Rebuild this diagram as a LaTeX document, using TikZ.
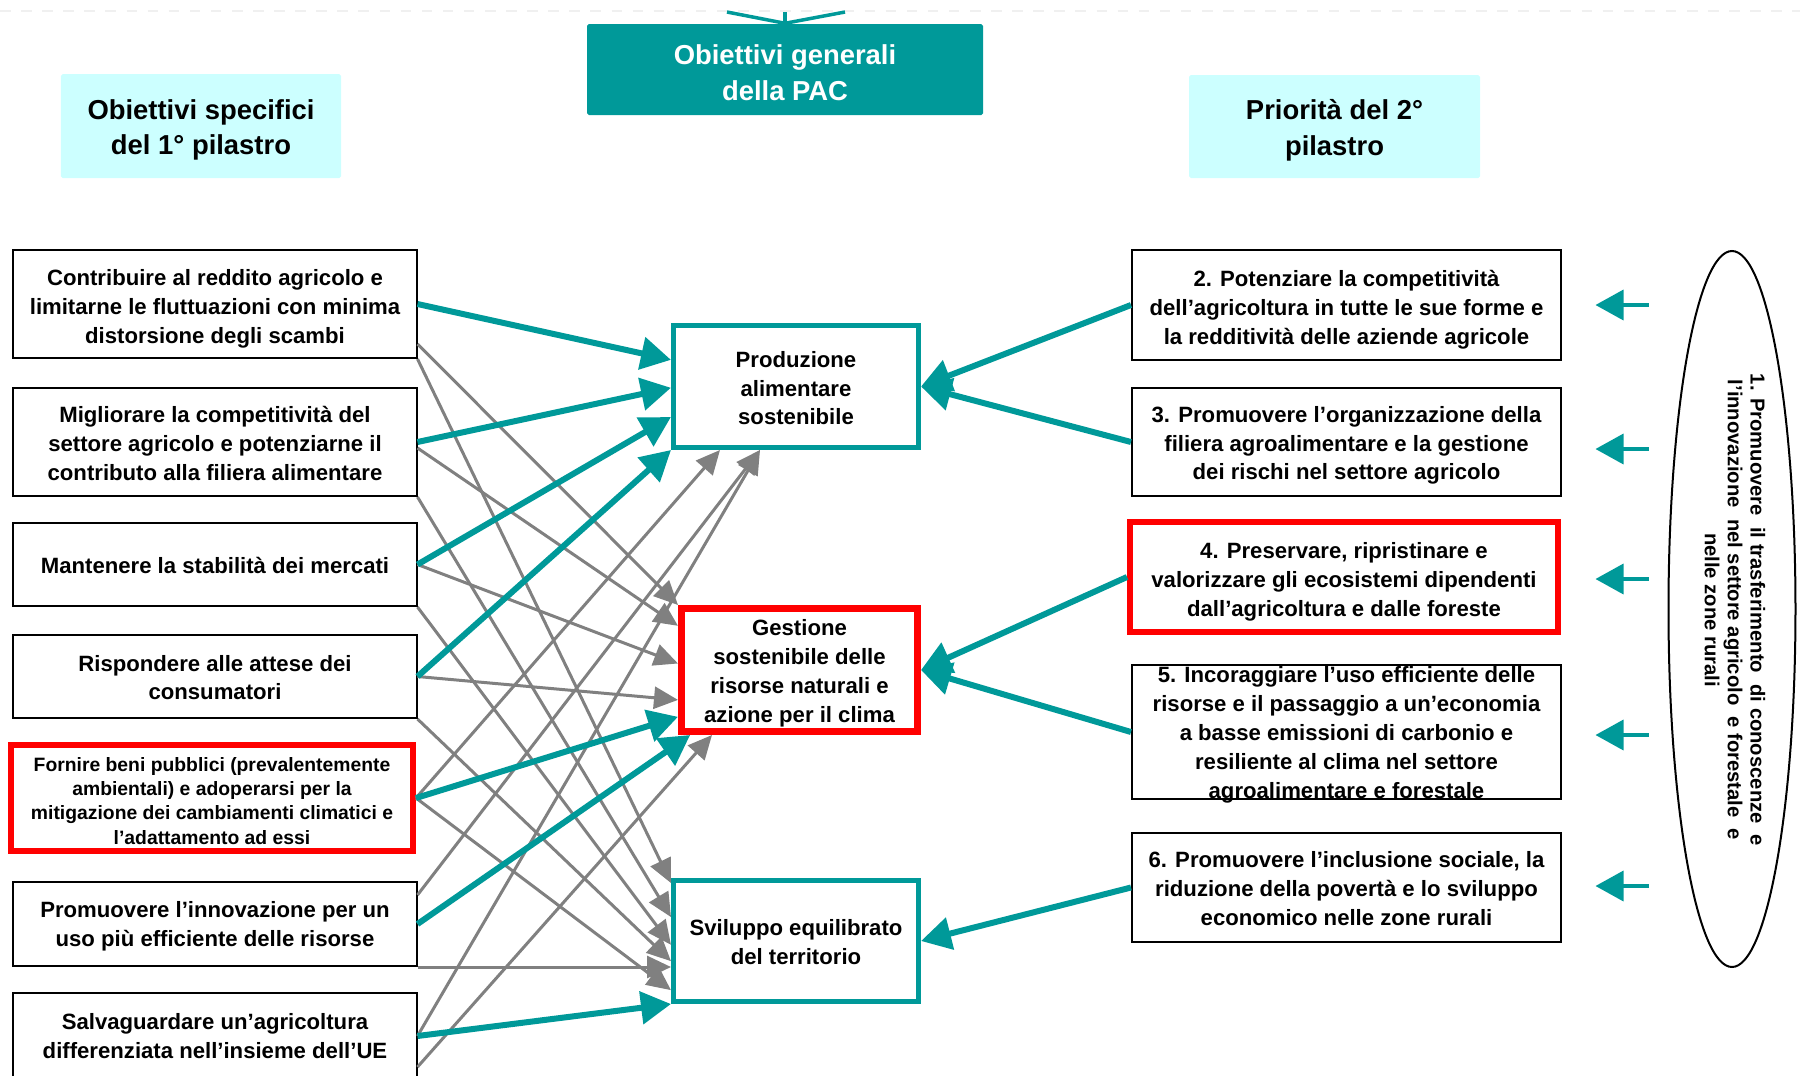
\documentclass[tikz,border=0pt]{standalone}
\usepackage{fontspec}
\setmainfont{Liberation Sans}
\usetikzlibrary{arrows.meta,calc,shapes.geometric}
\definecolor{pacteal}{RGB}{0,153,153}
\definecolor{paccyan}{RGB}{204,255,255}
\definecolor{pacgrey}{RGB}{128,128,128}
\newcommand{\txtdrop}[1]{\rule{0pt}{#1}}

\begin{document}
\begin{tikzpicture}[
	txt/.style={font=\bfseries\fontsize{6.3}{8.2}\selectfont, align=center, inner sep=0pt},
	box/.style={txt, draw=black, line width=0.02cm, minimum width=4.03cm},
	redbox/.style={txt, draw=red, line width=0.06cm},
	goalbox/.style={txt, draw=pacteal, line width=0.05cm, minimum width=2.45cm},
	hdr/.style={font=\bfseries\fontsize{7.8}{10.2}\selectfont, align=center, fill=paccyan, rounded corners=0.5pt},
	tealarr/.style={draw=pacteal, line width=0.06cm, -{Triangle[length=0.3cm,width=0.32cm]}},
	greyarr/.style={draw=pacgrey, line width=0.03cm, -{Triangle[length=0.24cm,width=0.22cm]}},
	smallarr/.style={draw=pacteal, line width=0.035cm, -{Triangle[length=0.28cm,width=0.3cm]}}
	]
	\useasboundingbox (0,0) rectangle (18,-10.76);
	
	\draw[gray!12, dashed] (0,-0.11) -- (18,-0.11);
	
	% headers
	\node[hdr, fill=pacteal, text=white, minimum width=3.96cm, minimum height=0.91cm] (gen) at (7.85,-0.695) {\txtdrop{7.6pt}Obiettivi generali\\della PAC};
	\node[hdr, minimum width=2.80cm, minimum height=1.04cm] (spec) at (2.01,-1.26) {\txtdrop{7.9pt}Obiettivi specifici\\del 1° pilastro};
	\node[hdr, minimum width=2.91cm, minimum height=1.03cm] (prio) at (13.345,-1.265) {\txtdrop{8.1pt}Priorità del 2°\\pilastro};
	
	\coordinate (t1) at (7.27,-0.12);
	\coordinate (t2) at (7.85,-0.12);
	\coordinate (t3) at (8.45,-0.12);
	\foreach \t in {t1,t2,t3}
		\draw[pacteal, line width=0.035cm] (\t) -- (gen.north);
	
	% left column
	\node[box, minimum height=1.08cm] (L1) at (2.15,-3.04) {\txtdrop{7.45pt}Contribuire al reddito agricolo e\\limitarne le fluttuazioni con minima\\distorsione degli scambi};
	\node[box, minimum height=1.08cm] (L2) at (2.15,-4.42) {\txtdrop{5.4pt}Migliorare la competitività del\\settore agricolo e potenziarne il\\contributo alla filiera alimentare};
	\node[box, minimum height=0.83cm] (L3) at (2.15,-5.645) {\txtdrop{5.4pt}Mantenere la stabilità dei mercati};
	\node[box, minimum height=0.83cm] (L4) at (2.15,-6.765) {\txtdrop{5.2pt}Rispondere alle attese dei\\consumatori};
	\node[redbox, minimum width=4.02cm, minimum height=1.06cm, font=\bfseries\fontsize{5.5}{6.9}\selectfont] (L5) at (2.12,-7.98) {\txtdrop{5.6pt}Fornire beni pubblici (prevalentemente\\ambientali) e adoperarsi per la\\mitigazione dei cambiamenti climatici e\\l’adattamento ad essi};
	\node[box, minimum height=0.84cm] (L6) at (2.15,-9.24) {\txtdrop{5.8pt}Promuovere l’innovazione per un\\uso più efficiente delle risorse};
	\node[box, minimum height=0.86cm] (L7) at (2.15,-10.36) {Salvaguardare un’agricoltura\\differenziata nell’insieme dell’UE};
	
	% general objectives
	\node[goalbox, minimum height=1.22cm] (M1) at (7.96,-3.865) {\txtdrop{5.5pt}Produzione\\alimentare\\sostenibile};
	\node[redbox, line width=0.07cm, minimum width=2.36cm, minimum height=1.23cm] (M2) at (7.995,-6.70) {\txtdrop{6.5pt}Gestione\\sostenibile delle\\risorse naturali e\\azione per il clima};
	\node[goalbox, minimum height=1.21cm] (M3) at (7.96,-9.41) {\txtdrop{5.2pt}Sviluppo equilibrato\\del territorio};
	
	% right column
	\node[box, minimum width=4.29cm, minimum height=1.10cm] (R2) at (13.465,-3.05) {\txtdrop{7.3pt}2. Potenziare la competitività\\dell’agricoltura in tutte le sue forme e\\la redditività delle aziende agricole};
	\node[box, minimum width=4.29cm, minimum height=1.08cm] (R3) at (13.465,-4.42) {\txtdrop{6.5pt}3. Promuovere l’organizzazione della\\filiera agroalimentare e la gestione\\dei rischi nel settore agricolo};
	\node[redbox, minimum width=4.28cm, minimum height=1.10cm] (R4) at (13.44,-5.77) {\txtdrop{7.45pt}4. Preservare, ripristinare e\\valorizzare gli ecosistemi dipendenti\\dall’agricoltura e dalle foreste};
	\node[box, minimum width=4.29cm, minimum height=1.34cm] (R5) at (13.465,-7.32) {};
	\node[txt] (R5txt) at (R5) {\txtdrop{6.1pt}5. Incoraggiare l’uso efficiente delle\\risorse e il passaggio a un’economia\\a basse emissioni di carbonio e\\resiliente al clima nel settore\\agroalimentare e forestale};
	\node[box, minimum width=4.29cm, minimum height=1.09cm] (R6) at (13.465,-8.875) {\txtdrop{5.2pt}6. Promuovere l’inclusione sociale, la\\riduzione della povertà e lo sviluppo\\economico nelle zone rurali};
	
	% priority 1
	\node[draw, ellipse, line width=0.02cm, minimum width=1.27cm, minimum height=7.16cm, inner sep=0pt] (ell) at (17.32,-6.09) {};
	\node[rotate=-90, font=\bfseries\fontsize{5.75}{6.5}\selectfont, align=center, inner sep=0pt] (elltxt) at (17.35,-6.10) {1. Promuovere \ il trasferimento \ di conoscenze \ e\\l’innovazione \ nel settore agricolo \ e forestale \ e\\nelle zone rurali};
	
	\foreach \r/\dy in {R2/0, R3/-0.07, R4/-0.02, R5/-0.03, R6/0.015}
		\draw[smallarr] ($(ell.west |- \r.east)+(-0.19,\dy)$) -- ++(-0.53,0);
	
	% end points
	\coordinate (l1a) at ($(L1.south east)+(0,0.15)$);
	\coordinate (l2a) at ($(L2.east)+(0,-0.06)$);
	\coordinate (l6a) at ($(L6.north east)+(0,-0.14)$);
	\coordinate (l7a) at ($(L7.east)+(0,-0.31)$);
	
	\coordinate (m1w1) at ($(M1.north west)!0.29!(M1.south west)$);
	\coordinate (m1w2) at ($(M1.north west)!0.51!(M1.south west)$);
	\coordinate (m1w3) at ($(M1.north west)!0.74!(M1.south west)$);
	\coordinate (m1s1) at ($(M1.south west)!0.196!(M1.south east)$);
	\coordinate (m1s2) at ($(M1.south west)!0.356!(M1.south east)$);
	
	\coordinate (m2w1) at ($(M2.north west)!0.16!(M2.south west)$);
	\coordinate (m2w2) at ($(M2.north west)!0.45!(M2.south west)$);
	\coordinate (m2w3) at ($(M2.north west)!0.73!(M2.south west)$);
	\coordinate (m2w4) at ($(M2.north west)!0.86!(M2.south west)$);
	\coordinate (m2s0) at ($(M2.south west)!0.05!(M2.south east)$);
	\coordinate (m2s1) at ($(M2.south west)!0.14!(M2.south east)$);
	
	\coordinate (m3w1) at ($(M3.north west)!0.04!(M3.south west)$);
	\coordinate (m3w2) at ($(M3.north west)!0.31!(M3.south west)$);
	\coordinate (m3w3) at ($(M3.north west)!0.53!(M3.south west)$);
	\coordinate (m3w4) at ($(M3.north west)!0.66!(M3.south west)$);
	\coordinate (m3w5) at ($(M3.north west)!0.89!(M3.south west)$);
	
	% grey links
	\foreach \s/\t in {l1a/M2.north west, L1.south east/m3w1, l2a/m2w1, L2.south east/m3w2, L3.east/m2w2, L3.south east/m3w3, L4.east/m2w3, L4.south east/m3w4, L5.east/m1s1, L5.east/m3w5, l6a/m1s2, L7.east/m1s2, l7a/m2s1}
		\draw[greyarr] (\s) -- (\t);
	\draw[greyarr] (L6.south east) -- (L6.south east -| M3.west);
	
	% teal links
	\foreach \s/\t in {L1.east/m1w1, L2.east/m1w2, L3.east/m1w3, L4.east/M1.south west, L5.east/m2w4, L6.east/m2s0, L7.east/M3.south west, R2.west/M1.east, R3.west/M1.east, R4.west/M2.east, R5.west/M2.east, R6.west/M3.east}
		\draw[tealarr] (\s) -- (\t);
\end{tikzpicture}
\end{document}
